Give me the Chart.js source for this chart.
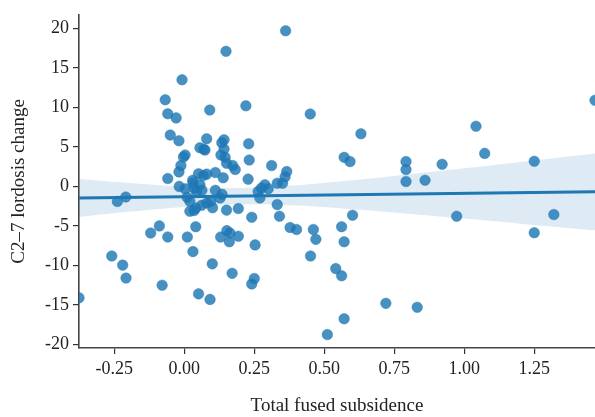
<!DOCTYPE html>
<html>
<head>
<meta charset="utf-8">
<script src="https://cdn.jsdelivr.net/npm/chart.js@4/dist/chart.umd.min.js"></script>
<style>
html,body{margin:0;padding:0;background:#fff;}
canvas{display:block;}
</style>
</head>
<body>
<canvas id="c" width="595" height="417"></canvas>
<script>
// Scatter data: total fused subsidence (x) vs C2–7 lordosis change (y)
const subsidence = [
 -0.376,-0.239,-0.209,-0.259,-0.22,-0.208,-0.079,-0.12,-0.089,-0.059,
 0.011,0.041,0.031,0.10,0.051,0.092,0.171,0.13,0.152,0.163,
 0.161,0.193,0.151,0.193,0.241,0.241,0.25,0.149,-0.008,-0.068,
 -0.059,-0.029,0.091,0.22,-0.05,-0.019,0.08,0.134,0.142,0.056,
 0.07,0.074,-0.003,0.003,-0.012,-0.019,-0.059,0.131,0.142,0.146,
 0.151,0.173,0.182,0.051,0.068,0.08,0.111,0.139,0.03,0.031,
 -0.018,0.23,0.232,0.228,0.111,0.003,0.035,0.056,0.063,0.044,
 0.128,0.135,0.01,0.02,0.041,0.062,0.08,0.095,0.101,0.02,
 0.035,0.288,0.276,0.30,0.264,0.27,0.332,0.351,0.366,0.36,
 0.312,0.362,0.45,0.631,0.571,0.592,0.792,0.792,0.792,0.332,
 0.34,0.601,0.378,0.401,0.461,0.47,0.562,0.571,0.253,0.451,
 0.541,0.562,0.72,0.832,0.571,0.511,1.467,1.042,1.073,0.921,
 1.25,0.86,0.973,1.32,1.25
];
const lordosisChange = [
 -14.1,-1.9,-1.34,-8.8,-9.96,-11.6,-12.5,-5.9,-5.0,-6.4,
 -6.4,-5.1,-8.25,-9.8,-13.6,-14.3,-11.0,-6.4,-5.6,-5.9,
 -7.0,-6.3,-3.0,-2.8,-3.9,-12.35,-11.65,17.1,13.5,10.97,
 9.2,8.67,9.67,10.2,6.5,5.78,6.03,5.53,5.9,4.9,
 4.7,4.6,3.73,3.98,2.64,1.84,1.0,3.98,4.73,3.68,
 2.93,2.64,2.14,1.6,1.38,1.55,1.76,1.1,0.79,0.44,
 0.0,5.4,3.35,0.92,-0.5,-0.29,-0.21,0.21,-0.5,-0.63,
 -1.47,-1.0,-1.38,-1.88,-2.73,-2.39,-2.1,-1.88,-2.7,-3.14,
 -3.05,0.21,-0.21,-0.29,-0.63,-1.47,0.41,0.41,1.88,1.22,
 2.64,19.7,9.17,6.66,3.68,3.14,3.14,2.14,0.63,-2.3,
 -3.77,-3.64,-5.2,-5.45,-5.45,-6.7,-5.1,-7.0,-7.4,-8.8,
 -10.4,-11.3,-14.8,-15.3,-16.75,-18.75,10.9,7.62,4.18,2.8,
 3.18,0.79,-3.77,-3.56,-5.86
];
// Regression line
const fitX = [-0.376, 1.467];
const fitY = [-1.47, -0.69];
// Confidence band
const bandX =     [-0.376,-0.2, 0.0, 0.2, 0.4, 0.6, 0.8, 1.0, 1.2, 1.467];
const bandUpper = [ 0.93, 0.44,-0.03,-0.19, 0.14, 0.77, 1.51, 2.29, 3.09, 4.18];
const bandLower = [-3.87,-3.22,-2.59,-2.27,-2.42,-2.89,-3.45,-4.07,-4.71,-5.56];

const xTicks = [-0.25, 0.00, 0.25, 0.50, 0.75, 1.00, 1.25];
const yTicks = [-20, -15, -10, -5, 0, 5, 10, 15, 20];
const xTitle = 'Total fused subsidence';
const yTitle = 'C2–7 lordosis change';

const BLUE = '#1f77b4';
const FONT = "'Liberation Serif', 'DejaVu Serif', serif";

const pts = subsidence.map((x, i) => ({x, y: lordosisChange[i]}));
const fitPts = fitX.map((x, i) => ({x, y: fitY[i]}));
const upPts = bandX.map((x, i) => ({x, y: bandUpper[i]}));
const loPts = bandX.map((x, i) => ({x, y: bandLower[i]}));

new Chart(document.getElementById('c'), {
  type: 'scatter',
  data: {
    datasets: [
      { data: upPts, showLine: true, pointRadius: 0, borderWidth: 0, borderColor: 'rgba(0,0,0,0)',
        backgroundColor: 'rgba(31,119,180,0.15)', fill: false, order: 1, tension: 0.4 },
      { data: loPts, showLine: true, pointRadius: 0, borderWidth: 0, borderColor: 'rgba(0,0,0,0)',
        backgroundColor: 'rgba(31,119,180,0.15)', fill: '-1', order: 1, tension: 0.4 },
      { data: pts, pointRadius: 5.3, pointHoverRadius: 5.3, backgroundColor: 'rgba(31,119,180,0.82)',
        borderColor: 'rgba(31,119,180,0.82)', borderWidth: 0.5, order: 2 },
      { data: fitPts, showLine: true, pointRadius: 0, borderColor: BLUE, borderWidth: 3, fill: false, order: 0 }
    ]
  },
  options: {
    responsive: false,
    animation: false,
    events: [],
    layout: { autoPadding: false, padding: { left: 0, right: 0, top: 12, bottom: 0 } },
    plugins: { legend: { display: false }, tooltip: { enabled: false } },
    scales: {
      x: {
        type: 'linear', min: -0.376, max: 1.467,
        afterBuildTicks: s => { s.ticks = xTicks.map(v => ({value: v})); },
        afterFit: s => { s.height = 69; s.paddingLeft = 0; s.paddingRight = 0; },
        ticks: { color: '#222', font: { family: FONT, size: 18 }, padding: 4,
                 callback: v => v.toFixed(2), maxRotation: 0, autoSkip: false },
        grid: { display: true, drawOnChartArea: false, drawTicks: true, tickLength: 6, color: '#333', lineWidth: 1.2 },
        border: { display: true, color: '#444', width: 1.6 },
        title: { display: true, text: xTitle, color: '#222', font: { family: FONT, size: 19 }, padding: { top: 0, bottom: 0 } }
      },
      y: {
        type: 'linear', min: -20.45, max: 21.72,
        afterBuildTicks: s => { s.ticks = yTicks.map(v => ({value: v})); },
        afterFit: s => { s.width = 79; },
        ticks: { color: '#222', font: { family: FONT, size: 18 }, padding: 4,
                 callback: v => String(v) },
        grid: { display: true, drawOnChartArea: false, drawTicks: true, tickLength: 6, color: '#333', lineWidth: 1.2 },
        border: { display: true, color: '#444', width: 1.6 },
        title: { display: true, text: yTitle, color: '#222', font: { family: FONT, size: 19 }, padding: { top: 8, bottom: 0 } }
      }
    }
  }
});
</script>
</body>
</html>
